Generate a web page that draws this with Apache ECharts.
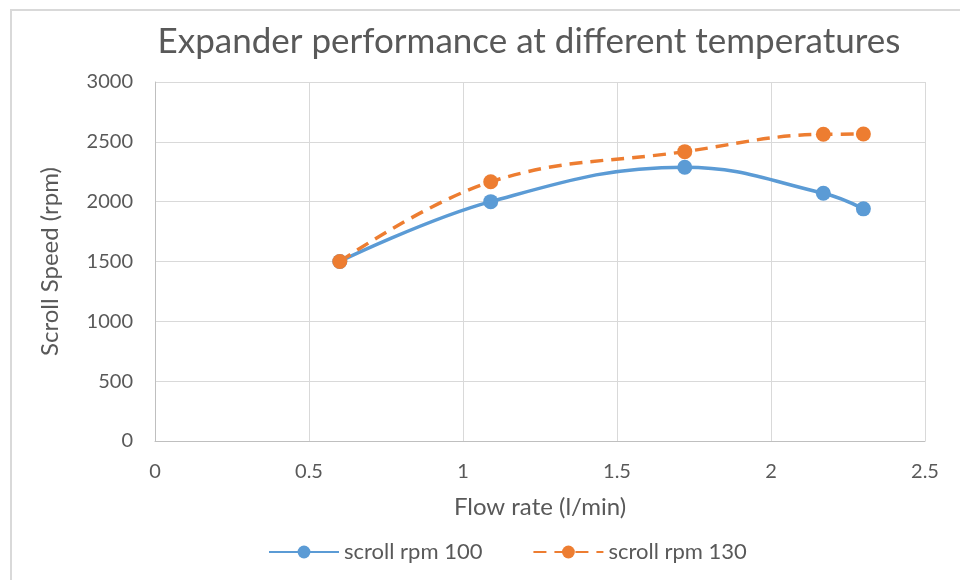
<!DOCTYPE html>
<html><head><meta charset="utf-8">
<script src="https://cdn.jsdelivr.net/npm/echarts@6/dist/echarts.min.js"></script>
<style>html,body{margin:0;padding:0;background:#fff}#c{width:960px;height:580px}</style>
</head><body><div id="c"></div>
<script>
const titleText = 'Expander performance at different temperatures';
const xAxisName = 'Flow rate (l/min)';
const yAxisName = 'Scroll Speed (rpm)';
const seriesNames = ['scroll rpm 100', 'scroll rpm 130'];
const flowRate = [0.6, 1.09, 1.72, 2.17, 2.3];
const rpm100 = [1500, 2000, 2288, 2070, 1940];
const rpm130 = [1500, 2166, 2418, 2563, 2565];

const font = 'Lato, "Open Sans", sans-serif';
const chart = echarts.init(document.getElementById('c'));
const pairs = (xs, ys) => xs.map((x, i) => [x, ys[i]]);
chart.setOption({
  animation: false,
  backgroundColor: '#fff',
  graphic: [{type: 'rect', shape: {x: 11, y: 10, width: 1000, height: 1000}, style: {fill: 'none', stroke: '#D9D9D9', lineWidth: 2}}],
  title: {text: titleText, left: 524, top: 19, textAlign: 'center',
    textStyle: {fontFamily: font, fontSize: 35, fontWeight: 'normal', color: '#595959'}},
  grid: {left: 155, right: 35, top: 82, bottom: 139, containLabel: false},
  xAxis: {type: 'value', min: 0, max: 2.5, interval: 0.5,
    name: xAxisName, nameLocation: 'middle', nameGap: 54,
    nameTextStyle: {fontFamily: font, fontSize: 24, color: '#595959'},
    axisLine: {show: true, lineStyle: {color: '#BFBFBF', width: 1}},
    axisTick: {show: false},
    axisLabel: {fontFamily: font, fontSize: 20, color: '#595959', margin: 21},
    splitLine: {show: true, lineStyle: {color: '#D9D9D9', width: 1}}},
  yAxis: {type: 'value', min: 0, max: 3000, interval: 500,
    name: yAxisName, nameLocation: 'middle', nameGap: 93,
    nameTextStyle: {fontFamily: font, fontSize: 24, color: '#595959'},
    axisLine: {show: true, lineStyle: {color: '#BFBFBF', width: 1}},
    axisTick: {show: false},
    axisLabel: {fontFamily: font, fontSize: 20, color: '#595959', margin: 22,
      formatter: v => String(v)},
    splitLine: {show: true, lineStyle: {color: '#D9D9D9', width: 1}}},
  legend: {top: 536, left: 263, itemWidth: 70, itemHeight: 16, itemGap: 50,
    textStyle: {fontFamily: font, fontSize: 22, color: '#595959'},
    data: seriesNames},
  series: [
    {name: seriesNames[0], type: 'line', data: pairs(flowRate, rpm100), smooth: 0.4,
     symbol: 'circle', symbolSize: 15, color: '#5B9BD5',
     lineStyle: {width: 3.5, color: '#5B9BD5'}, itemStyle: {color: '#5B9BD5'}},
    {name: seriesNames[1], type: 'line', data: pairs(flowRate, rpm130), smooth: 0.4,
     symbol: 'circle', symbolSize: 15, color: '#ED7D31',
     lineStyle: {width: 3.5, color: '#ED7D31', type: [13, 8]}, itemStyle: {color: '#ED7D31'}}
  ]
});
</script></body></html>
